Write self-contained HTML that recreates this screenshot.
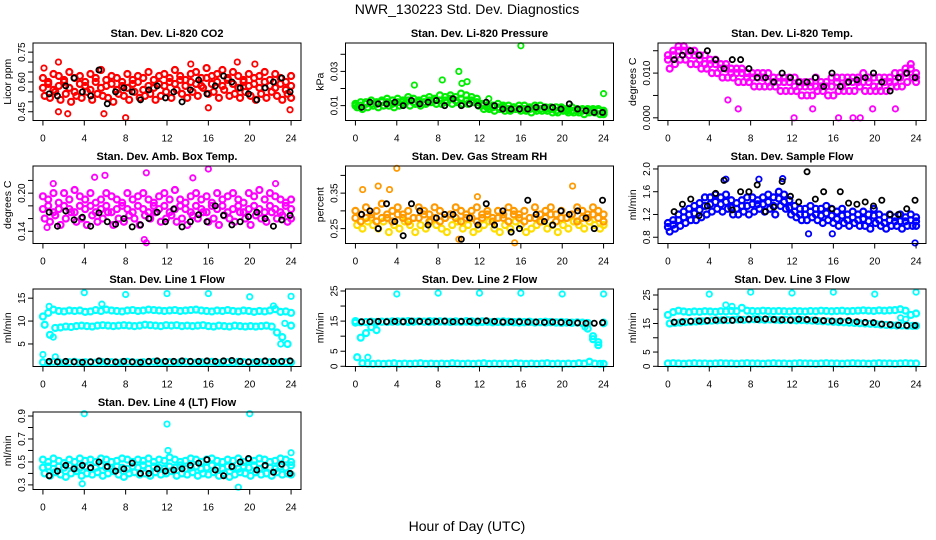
<!DOCTYPE html>
<html><head><meta charset="utf-8"><style>
html,body{margin:0;padding:0;background:#fff;}
svg{display:block;font-family:"Liberation Sans",sans-serif;}
</style></head><body>
<svg id="chart" width="936" height="540" viewBox="0 0 936 540" xmlns="http://www.w3.org/2000/svg">
<text x="467" y="14" font-size="14" text-anchor="middle">NWR_130223  Std. Dev. Diagnostics</text>
<text x="467" y="531" font-size="14" text-anchor="middle">Hour of Day (UTC)</text>
</svg>
<script>
const xTicks=[0,4,8,12,16,20,24];
// Panel 1: CO2
const co2A=[.62,.60,.64,.63,.61,.65,.62,.63,.60,.64,.62,.66,.61,.63,.62,.60,.64,.61,.63,.62,.65,.61,.63,.64,.62,.66,.63,.61,.64,.65,.62,.67,.63,.64,.66,.62,.65,.63,.61,.64,.62,.63,.65,.61,.64,.62,.60,.63];
const co2B=[.53,.52,.55,.51,.54,.50,.53,.52,.55,.51,.54,.53,.52,.50,.54,.53,.51,.55,.52,.53,.54,.51,.53,.55,.52,.56,.54,.52,.55,.53,.57,.54,.55,.52,.56,.53,.54,.52,.55,.53,.51,.54,.52,.55,.53,.51,.54,.52];
const co2C=[.57,.59,.56,.58,.60,.57,.55,.59,.58,.56,.60,.57,.58,.59,.56,.58,.57,.59,.60,.56,.58,.57,.59,.58,.60,.59,.61,.58,.60,.59,.58,.62,.59,.60,.58,.61,.59,.57,.60,.58,.59,.57,.60,.58,.57,.59,.56,.58];
const co2K=[.54,.53,.58,.62,.55,.53,.66,.49,.55,.57,.55,.51,.56,.58,.52,.55,.50,.56,.61,.54,.58,.63,.60,.57,.54,.51,.57,.60,.62,.55];
const co2OutX=[1.5,0.1,1.5,2.4,8,5.9,14.3,16,23.9,18.8,20.5];
const co2OutY=[.70,.67,.45,.44,.42,.44,.69,.47,.46,.70,.69];
// Panel 2: Pressure
const prA=[.011,.012,.012,.013,.012,.013,.014,.013,.014,.013,.015,.014,.013,.014,.015,.014,.016,.015,.016,.015,.017,.016,.015,.014,.011,.010,.010,.011,.010,.010,.009,.010,.010,.009,.010,.010,.009,.009,.009,.009,.008,.009,.008,.008,.008,.008,.008,.007];
const prB=[.009,.008,.009,.010,.009,.010,.010,.009,.010,.011,.010,.011,.010,.011,.012,.011,.011,.012,.011,.012,.011,.011,.012,.010,.008,.008,.007,.008,.007,.007,.008,.007,.007,.006,.007,.007,.007,.006,.006,.007,.006,.006,.006,.005,.006,.006,.005,.005];
const prC=[.010,.010,.011,.011,.011,.012,.012,.011,.012,.012,.013,.012,.012,.012,.013,.013,.013,.013,.014,.013,.014,.013,.013,.012,.010,.009,.009,.009,.009,.008,.009,.008,.008,.008,.008,.008,.008,.008,.007,.008,.007,.007,.007,.007,.007,.007,.007,.006];
const prK=[.009,.012,.011,.011,.012,.010,.013,.011,.012,.013,.010,.014,.010,.011,.010,.012,.010,.008,.008,.008,.008,.009,.009,.009,.008,.011,.008,.007,.006,.006];
const prOutX=[16,10,8.4,5.7,24,12.9,10.3,10.8];
const prOutY=[.045,.030,.025,.022,.017,.014,.023,.024];
// Panel 3: Li-820 Temp
const tpA=[.014,.015,.016,.016,.015,.015,.014,.014,.013,.013,.012,.012,.011,.011,.011,.010,.010,.010,.010,.010,.009,.009,.009,.009,.009,.008,.008,.008,.009,.008,.008,.009,.009,.009,.009,.009,.009,.010,.009,.009,.009,.009,.009,.010,.010,.011,.012,.010];
const tpB=[.011,.012,.013,.013,.012,.012,.011,.011,.010,.010,.009,.009,.009,.008,.008,.008,.007,.007,.007,.007,.007,.006,.006,.006,.006,.005,.005,.005,.006,.006,.005,.005,.006,.006,.006,.006,.007,.006,.006,.006,.006,.006,.007,.007,.007,.008,.009,.008];
const tpC=[.013,.014,.015,.015,.014,.014,.013,.012,.012,.012,.011,.011,.010,.010,.010,.009,.009,.009,.009,.008,.008,.008,.008,.008,.007,.007,.007,.007,.007,.007,.007,.007,.008,.007,.008,.008,.008,.008,.008,.007,.007,.008,.008,.008,.009,.010,.011,.009];
const tpK=[.013,.014,.015,.014,.015,.013,.011,.013,.013,.011,.009,.009,.008,.010,.009,.008,.008,.009,.007,.010,.007,.008,.0085,.009,.010,.008,.006,.009,.010,.009];
const tpOutX=[12.2,16.5,17.9,18.6,19.8,6.8,14,22,5.8];
const tpOutY=[0,0,0,0,.002,.002,.002,.002,.004];
// Panel 4: Amb box temp
const abA=[.195,.19,.20,.185,.20,.19,.205,.195,.19,.20,.185,.19,.20,.195,.19,.185,.20,.19,.195,.20,.19,.185,.195,.20,.19,.205,.19,.185,.195,.20,.19,.195,.185,.20,.19,.195,.20,.19,.185,.20,.195,.205,.19,.20,.195,.19,.185,.19];
const abB=[.16,.155,.165,.15,.16,.17,.155,.16,.15,.165,.155,.16,.17,.15,.16,.155,.165,.16,.15,.165,.16,.17,.155,.16,.165,.155,.16,.15,.165,.16,.17,.155,.16,.15,.165,.16,.155,.17,.16,.15,.165,.16,.155,.17,.16,.165,.155,.16];
const abC=[.175,.18,.17,.175,.18,.175,.17,.18,.175,.18,.17,.175,.18,.17,.175,.18,.175,.17,.18,.175,.17,.18,.175,.18,.17,.175,.18,.175,.17,.18,.175,.17,.18,.175,.18,.17,.175,.18,.17,.175,.18,.175,.17,.18,.175,.17,.18,.175];
const abK=[.17,.148,.172,.158,.162,.148,.169,.155,.151,.16,.147,.15,.16,.17,.155,.175,.147,.155,.166,.155,.18,.165,.15,.155,.163,.17,.16,.148,.158,.165];
const abOutX=[1,5,6,10,16,14.5,9.8,10,22.5,0.4];
const abOutY=[.215,.225,.228,.232,.238,.224,.127,.122,.215,.146];
// Panel 5: RH
const rhA=[.30,.29,.31,.28,.30,.32,.29,.30,.31,.29,.30,.28,.31,.30,.29,.31,.30,.28,.29,.31,.30,.29,.30,.31,.29,.30,.28,.30,.29,.31,.30,.29,.30,.28,.31,.29,.30,.31,.29,.30,.28,.29,.31,.30,.29,.31,.30,.29];
const rhB=[.26,.25,.27,.26,.25,.27,.24,.26,.25,.27,.26,.24,.26,.25,.27,.26,.25,.24,.26,.27,.25,.26,.24,.25,.26,.27,.25,.24,.26,.25,.27,.26,.24,.25,.26,.27,.25,.26,.24,.26,.25,.27,.26,.25,.27,.26,.25,.26];
const rhC=[.28,.27,.28,.29,.27,.28,.28,.27,.29,.28,.27,.28,.28,.29,.27,.28,.27,.28,.29,.28,.27,.28,.28,.27,.28,.29,.27,.28,.28,.27,.29,.28,.27,.28,.28,.27,.28,.29,.27,.28,.28,.29,.27,.28,.28,.29,.28,.27];
const rhK=[.29,.30,.25,.32,.27,.23,.32,.30,.26,.28,.29,.29,.22,.28,.26,.32,.26,.30,.24,.25,.33,.29,.27,.26,.30,.29,.30,.28,.25,.33];
const rhOutX=[4,2.2,0.7,11.8,21,15.4,10,3.3];
const rhOutY=[.42,.37,.36,.34,.37,.21,.22,.36];
// Panel 6: Sample flow
const sfA=[1.05,1.1,1.2,1.25,1.3,1.35,1.4,1.5,1.5,1.55,1.5,1.55,1.45,1.4,1.45,1.5,1.5,1.45,1.5,1.55,1.5,1.6,1.55,1.45,1.35,1.3,1.3,1.35,1.3,1.3,1.35,1.3,1.25,1.3,1.2,1.25,1.2,1.25,1.2,1.3,1.2,1.15,1.2,1.15,1.2,1.15,1.2,1.15];
const sfB=[.9,.95,1.0,1.05,1.1,1.1,1.15,1.2,1.25,1.3,1.25,1.3,1.2,1.2,1.25,1.2,1.25,1.3,1.25,1.3,1.2,1.35,1.3,1.2,1.15,1.1,1.1,1.15,1.1,1.05,1.1,1.05,1.0,1.05,1.0,1.05,1.0,1.0,.95,1.05,1.0,.95,1.0,1.0,.95,1.0,1.0,1.0];
const sfC=[.98,1.02,1.1,1.15,1.2,1.22,1.28,1.35,1.38,1.42,1.38,1.42,1.32,1.3,1.35,1.35,1.38,1.38,1.38,1.42,1.35,1.48,1.42,1.32,1.25,1.2,1.2,1.25,1.2,1.18,1.22,1.18,1.12,1.18,1.1,1.15,1.1,1.12,1.08,1.18,1.1,1.05,1.1,1.08,1.08,1.08,1.1,1.08];
const sfK=[1.25,1.38,1.47,1.18,1.35,1.57,1.8,1.28,1.6,1.6,1.72,1.25,1.33,1.78,1.52,1.42,1.95,1.47,1.6,1.3,1.6,1.4,1.38,1.42,1.35,1.45,1.2,1.2,1.3,1.45];
const sfOutX=[23.9,5.6,8.8,11.1,13.6,15.9];
const sfOutY=[.7,1.82,1.82,1.83,.86,.86];
// Panel 7: Line 1 flow
const l1A=[11,11.8,12.5,12.2,12.1,12.3,12.2,12.3,12.0,12.1,12.4,12.2,12.5,12.3,12.2,12.1,12.3,12.4,12.2,12.3,12.5,12.4,12.3,12.2,12.3,12.4,12.2,12.3,12.4,12.5,12.3,12.2,12.1,12.3,12.2,12.4,12.2,12.1,12.3,12.2,12.0,12.2,12.1,12.3,12.6,12.0,12.1,11.8];
const l1B=[9.2,7.0,8.5,8.6,8.8,8.7,8.9,9.0,8.9,8.8,9.0,9.1,9.0,8.9,9.0,9.1,9.0,8.9,9.0,9.2,9.1,9.0,8.9,9.1,9.0,9.1,8.9,9.0,8.9,9.0,9.1,8.9,8.8,9.0,8.9,8.8,9.0,8.9,8.8,8.9,8.8,8.9,9.0,8.8,7.5,6.5,5.0,9.0];
const l1C=[1.0,0.9,1.1,1.0,0.9,1.0,1.1,0.9,1.0,1.0,0.9,1.1,1.0,1.0,0.9,1.0,1.1,1.0,0.9,1.0,1.0,1.1,0.9,1.0,1.0,0.9,1.0,1.1,1.0,0.9,1.0,1.0,1.1,0.9,1.0,1.0,0.9,1.1,1.0,1.0,0.9,1.0,1.1,1.0,0.9,1.0,1.0,1.0];
const l1K=[1.2,1.1,1.2,1.1,1.0,1.1,1.3,1.2,1.1,1.2,1.1,1.0,1.2,1.3,1.2,1.2,1.3,1.2,1.2,1.3,1.2,1.3,1.4,1.2,1.1,1.2,1.3,1.2,1.2,1.3];
const l1OutX=[0,4,8,12,16,20,24,1.2,0.6,5.7,22.3,1,23,23.4];
const l1OutY=[2.7,16.2,15.8,16,16,15.3,15.4,2.2,13.2,13.7,13.3,6.5,5,9.5];
// Panel 8: Line 2 flow
const l2A=[15,9.5,11,13,12,14.8,14.8,14.9,14.8,14.9,15,14.8,14.9,14.8,15,14.9,14.8,14.9,14.8,14.9,14.8,15,14.9,14.8,14.9,14.8,14.7,14.8,14.9,14.8,14.7,14.8,14.7,14.8,14.6,14.7,14.8,14.7,14.6,14.7,14.6,14.5,14.6,14.5,12.5,10,7,14.5];
const l2B=[3,1,.9,.8,.9,.8,.9,1,.8,.9,.8,.9,1,.8,.9,.8,.9,.8,1,.9,.8,.9,.8,.9,1,.8,.9,.8,.9,.8,1,.9,.8,.9,.8,.9,1,.8,.9,.8,.9,.8,1,.9,1.5,.9,.8,.8];
const l2C=[14.5,14.6,14.7,14.8,14.7,14.8,14.7,14.8,14.9,14.8,14.7,14.8,14.9,14.8,14.7,14.8,14.9,14.8,14.7,14.8,14.7,14.8,14.7,14.6,14.7,14.8,14.6,14.7,14.6,14.7,14.6,14.5,14.6,14.7,14.5,14.6,14.5,14.6,14.5,14.4,14.5,14.4,14.5,14.3,14.4,9,8,14.3];
const l2K=[14.8,14.8,14.9,14.8,14.9,14.8,15.0,14.9,14.8,14.9,15.0,14.8,14.9,14.9,15.0,15.1,14.9,14.7,14.8,14.8,14.7,14.7,14.6,14.7,14.6,14.5,14.4,14.3,14.3,14.5];
const l2OutX=[4,8,12,16,20,24,1.2,22.2];
const l2OutY=[24,24.3,24.3,24.3,24,24,3,13];
// Panel 9: Line 3 flow
const l3A=[18,19,19.5,19.2,19,19.2,19.1,19.3,19.2,19.1,19.3,19.2,19.4,19.3,20.5,19.5,19.4,19.3,19.5,19.4,19.3,19.4,19.3,19.2,19.4,19.3,19.2,19.4,19.3,19.5,19.4,19.3,19.4,19.5,19.3,19.4,19.5,19.6,19.5,19.4,19.6,19.5,19.6,19.7,20,19.5,18,18.5];
const l3B=[15,15.2,15.3,15.5,15.6,15.7,15.8,15.9,16,16.1,16.2,16.2,16.3,16.4,16.3,16.4,16.5,16.4,16.3,16.4,16.3,16.2,16.3,16.2,16.1,16.2,16.1,16.0,15.9,15.8,15.7,15.6,15.5,15.4,15.3,15.2,15.1,15.0,14.9,14.8,14.6,14.5,14.4,14.3,14.3,14.2,14.2,14.2];
const l3C=[1,1.1,1,.9,1,1.1,1,1,.9,1,1.1,1,1,.9,1,1.1,1,1,.9,1,1.1,1,1,.9,1,1.1,1,1,.9,1,1.1,1,1,.9,1,1.1,1,1,.9,1,1.1,1,1,.9,1,1.1,1,1];
const l3K=[15.5,15.6,15.8,15.9,16.0,16.2,16.2,16.1,16.3,16.5,16.4,16.6,16.4,16.3,16.2,16.5,16.4,16.2,16.0,15.9,15.9,16.0,15.6,15.4,15.3,14.8,14.6,14.4,14.3,14.3];
const l3OutX=[4,8,12,16,20,24,5.6,6.2,22.5,23];
const l3OutY=[25.3,26,25.7,26,25.3,26,21.5,21,17,16.5];
// Panel 10: Line 4 flow
const l4A=[.52,.50,.53,.51,.49,.52,.50,.53,.51,.52,.50,.53,.52,.50,.51,.53,.52,.50,.52,.51,.53,.50,.52,.51,.54,.52,.50,.51,.53,.52,.50,.52,.53,.51,.50,.52,.51,.53,.50,.52,.51,.53,.52,.50,.51,.53,.52,.50];
const l4B=[.40,.38,.41,.39,.37,.40,.42,.38,.40,.39,.41,.38,.40,.42,.39,.37,.40,.41,.39,.40,.38,.41,.39,.40,.42,.38,.40,.39,.41,.38,.40,.39,.41,.38,.40,.37,.39,.41,.40,.38,.41,.39,.40,.38,.41,.39,.40,.39];
const l4C=[.45,.46,.44,.46,.45,.47,.44,.45,.46,.44,.45,.47,.45,.44,.46,.45,.44,.46,.45,.47,.44,.46,.45,.44,.46,.45,.47,.44,.45,.46,.44,.45,.47,.45,.44,.46,.45,.44,.46,.45,.47,.44,.46,.45,.44,.46,.45,.47];
const l4K=[.38,.42,.47,.44,.47,.45,.50,.46,.42,.44,.49,.40,.40,.44,.42,.43,.44,.47,.49,.52,.43,.38,.46,.50,.53,.43,.47,.41,.48,.40];
const l4OutX=[4,20,12,3.8,18.9,12.1,24];
const l4OutY=[.92,.92,.83,.31,.28,.6,.58];

const panels=[
 {name:'co2',title:'Stan. Dev. Li-820 CO2',ylab:'Licor ppm',col:0,row:0,ymin:.406,ymax:.796,ticks:[.45,.5,.55,.6,.65,.7,.75],labs:['0.45','0.60','0.75'],labv:[.45,.6,.75],color:'#ff0000',series:[co2A,co2B,co2C],k:co2K,ox:co2OutX,oy:co2OutY},
 {name:'pressure',title:'Stan. Dev. Li-820 Pressure',ylab:'kPa',col:1,row:0,ymin:.0013,ymax:.0466,ticks:[.01,.02,.03,.04],labs:['0.01','0.03'],labv:[.01,.03],color:'#00ee00',series:[prA,prB,prC],k:prK,ox:prOutX,oy:prOutY},
 {name:'li820-temp',title:'Stan. Dev. Li-820 Temp.',ylab:'degrees C',col:2,row:0,ymin:-.0006,ymax:.01673,ticks:[0,.005,.01,.015],labs:['0.000','0.010'],labv:[0,.01],color:'#ff00ff',series:[tpA,tpB,tpC],k:tpK,ox:tpOutX,oy:tpOutY},
 {name:'amb-box-temp',title:'Stan. Dev. Amb. Box Temp.',ylab:'degrees C',col:0,row:1,ymin:.1208,ymax:.2427,ticks:[.14,.16,.18,.2,.22],labs:['0.14','0.20'],labv:[.14,.2],color:'#ff00ff',series:[abA,abB,abC],k:abK,ox:abOutX,oy:abOutY},
 {name:'gas-stream-rh',title:'Stan. Dev. Gas Stream RH',ylab:'percent',col:1,row:1,ymin:.208,ymax:.4265,ticks:[.25,.3,.35,.4],labs:['0.25','0.35'],labv:[.25,.35],color:'#ff9900',color2:'#ffdd00',series:[rhA,rhB,rhC],k:rhK,ox:rhOutX,oy:rhOutY},
 {name:'sample-flow',title:'Stan. Dev. Sample Flow',ylab:'ml/min',col:2,row:1,ymin:.69,ymax:2.052,ticks:[.8,1.2,1.6,2.0],labs:['0.8','1.2','1.6','2.0'],labv:[.8,1.2,1.6,2.0],color:'#0000ff',series:[sfA,sfB,sfC],k:sfK,ox:sfOutX,oy:sfOutY},
 {name:'line1-flow',title:'Stan. Dev. Line 1 Flow',ylab:'ml/min',col:0,row:2,ymin:.08,ymax:17,ticks:[5,10,15],labs:['5','10','15'],labv:[5,10,15],color:'#00ffff',series:[l1A,l1B,l1C],k:l1K,ox:l1OutX,oy:l1OutY},
 {name:'line2-flow',title:'Stan. Dev. Line 2 Flow',ylab:'ml/min',col:1,row:2,ymin:-.07,ymax:25.66,ticks:[0,5,10,15,20,25],labs:['0','5','15','25'],labv:[0,5,15,25],color:'#00ffff',series:[l2A,l2B,l2C],k:l2K,ox:l2OutX,oy:l2OutY},
 {name:'line3-flow',title:'Stan. Dev. Line 3 Flow',ylab:'ml/min',col:2,row:2,ymin:-.07,ymax:27.1,ticks:[0,5,10,15,20,25],labs:['0','5','15','25'],labv:[0,5,15,25],color:'#00ffff',series:[l3A,l3B,l3C],k:l3K,ox:l3OutX,oy:l3OutY},
 {name:'line4-flow',title:'Stan. Dev. Line 4 (LT) Flow',ylab:'ml/min',col:0,row:3,ymin:.26,ymax:.935,ticks:[.3,.4,.5,.6,.7,.8,.9],labs:['0.3','0.5','0.7','0.9'],labv:[.3,.5,.7,.9],color:'#00ffff',series:[l4A,l4B,l4C],k:l4K,ox:l4OutX,oy:l4OutY}
];

const svg=document.getElementById('chart');
const NS='http://www.w3.org/2000/svg';
const COLS=[33,345.5,658],ROWS=[43,166,289,412],W=268,H=77.5,X0=-0.96,X1=24.96;
function mk(tag,attrs,parent){const e=document.createElementNS(NS,tag);for(const k in attrs)e.setAttribute(k,attrs[k]);parent.appendChild(e);return e;}

panels.forEach(p=>{
  const L=COLS[p.col],T=ROWS[p.row];
  const sx=t=>L+(t-X0)/(X1-X0)*W;
  const sy=v=>T+H-(v-p.ymin)/(p.ymax-p.ymin)*H;
  const g=mk('g',{},svg);
  
  
  const ttl=mk('text',{x:L+W/2,y:T-6,'font-size':11,'font-weight':'bold','text-anchor':'middle'},g);
  ttl.textContent=p.title;
  
  
  const yl=mk('text',{x:0,y:0,'font-size':10.5,'text-anchor':'middle',transform:`translate(${L-22},${T+H/2}) rotate(-90)`},g);
  yl.textContent=p.ylab;
  
  
  const pts=mk('g',{fill:'none'},g);
  
  
  p.series.forEach((arr,si)=>{
    const col=(p.color2&&si===1)?p.color2:p.color;
    arr.forEach((v,i)=>{
      const t=i*24/(arr.length-1)+si*0.17-(si===2?0.34:0);
      const c=mk('circle',{cx:sx(Math.max(0,Math.min(24,t))),cy:sy(v),r:3,stroke:col,'stroke-width':2.2},pts);
      
      
    });
  });
  p.ox.forEach((x,i)=>{
    const c=mk('circle',{cx:sx(x),cy:sy(p.oy[i]),r:2.7,stroke:p.color,'stroke-width':1.8},pts);
    
    
  });
  p.k.forEach((v,i)=>{
    const t=0.6+i*(23.3/(p.k.length-1));
    const c=mk('circle',{cx:sx(t),cy:sy(v),r:2.6,stroke:'#000','stroke-width':1.8},pts);
    
    
  });
  const b=mk('rect',{x:L,y:T,width:W,height:H,fill:'none',stroke:'#000','stroke-width':1},g);
  
  
  xTicks.forEach(t=>{
    mk('line',{x1:sx(t),x2:sx(t),y1:T+H,y2:T+H+5,stroke:'#000'},g);
    const tx=mk('text',{x:sx(t),y:T+H+21,'font-size':10,'text-anchor':'middle'},g);
    tx.textContent=t;
    
    
  });
  p.ticks.forEach(v=>{ mk('line',{x1:L-5,x2:L,y1:sy(v),y2:sy(v),stroke:'#000'},g); });
  p.labv.forEach((v,i)=>{
    const ty=mk('text',{x:0,y:0,'font-size':10,'text-anchor':'middle',transform:`translate(${L-8},${sy(v)}) rotate(-90)`},g);
    ty.textContent=p.labs[i];
    
    
  });
});
</script>
</body></html>
